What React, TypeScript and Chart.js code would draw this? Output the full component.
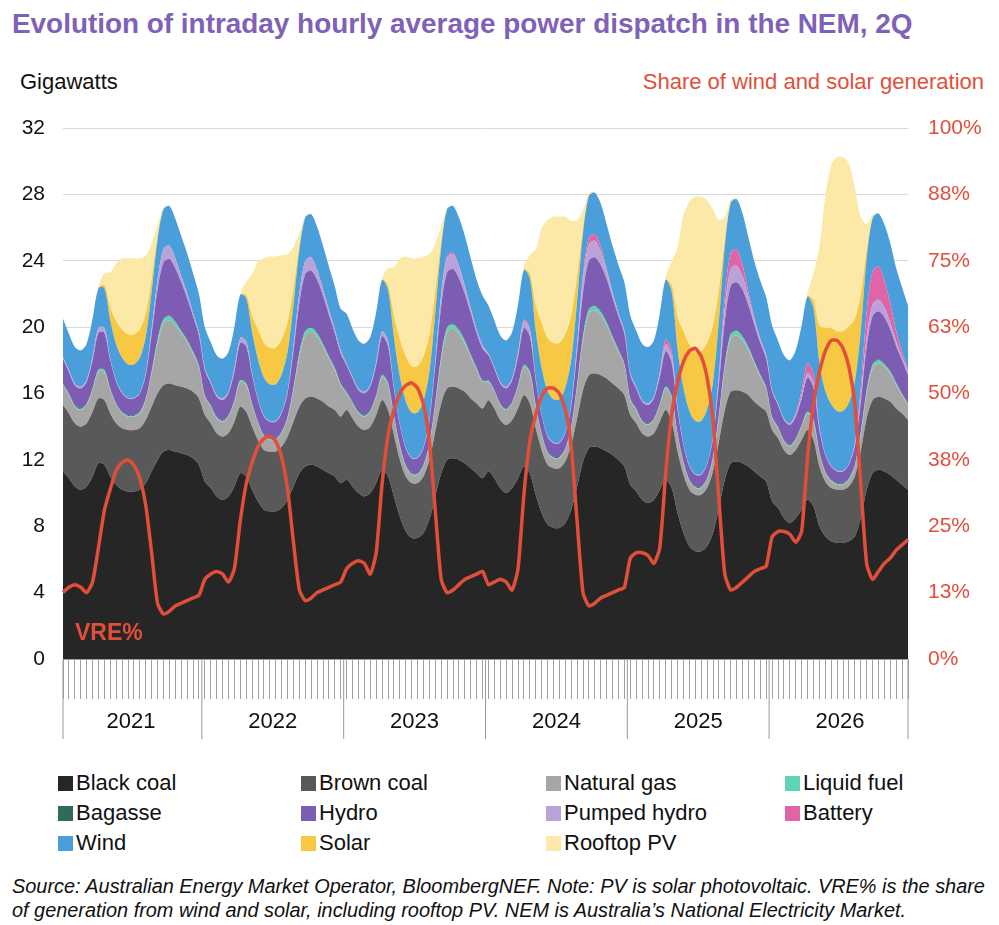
import React, { useEffect, useRef } from "react";
import { Chart, registerables } from "chart.js";
Chart.register(...registerables);

const years = ["2021", "2022", "2023", "2024", "2025", "2026"];
const hours = Array.from({ length: 24 }, (_, i) => i);

const blackCoal = [
  [11.3,10.9,10.4,10.2,10.4,11.0,11.8,11.7,11.0,10.5,10.2,10.1,10.1,10.2,10.6,11.3,12.0,12.5,12.6,12.5,12.4,12.3,12.1,11.7],
  [10.7,10.3,9.8,9.6,9.8,10.4,11.2,11.0,10.2,9.5,9.0,8.9,8.9,9.1,9.6,10.4,11.2,11.6,11.7,11.6,11.4,11.2,11.0,10.6],
  [10.8,10.4,10.0,9.8,10.0,10.6,11.4,11.0,9.8,8.6,7.7,7.3,7.3,7.6,8.4,9.8,11.2,12.0,12.1,12.0,11.8,11.5,11.2,10.9],
  [11.3,10.9,10.3,10.0,10.3,10.9,11.6,11.2,9.9,8.8,8.1,7.9,7.9,8.2,9.0,10.4,11.9,12.7,12.8,12.7,12.5,12.3,12.0,11.6],
  [10.5,10.1,9.6,9.4,9.6,10.2,10.8,10.3,8.8,7.6,6.8,6.5,6.5,6.8,7.6,9.1,10.8,11.8,11.9,11.8,11.6,11.3,11.0,10.7],
  [9.5,9.1,8.5,8.2,8.5,9.0,9.6,9.2,8.0,7.4,7.1,7.0,7.0,7.1,7.4,8.5,10.2,11.2,11.4,11.3,11.1,10.8,10.5,10.2],
];
const brownCoal = [
  [4.0,3.9,3.8,3.8,3.8,3.9,3.9,3.9,3.8,3.7,3.7,3.7,3.7,3.7,3.8,3.9,4.0,4.0,4.0,4.0,4.0,4.0,4.0,4.0],
  [4.0,3.9,3.8,3.8,3.8,3.9,4.0,3.9,3.8,3.7,3.6,3.6,3.6,3.7,3.8,3.9,4.0,4.1,4.1,4.1,4.1,4.0,4.0,4.0],
  [4.2,4.1,4.0,4.0,4.0,4.1,4.2,4.0,3.7,3.4,3.3,3.3,3.3,3.4,3.6,3.9,4.2,4.3,4.3,4.3,4.3,4.2,4.2,4.2],
  [4.3,4.2,4.1,4.1,4.1,4.2,4.3,4.2,4.0,3.8,3.6,3.6,3.6,3.7,3.9,4.1,4.3,4.4,4.4,4.4,4.4,4.3,4.3,4.3],
  [4.2,4.1,4.0,4.0,4.0,4.1,4.2,4.0,3.7,3.5,3.4,3.4,3.4,3.5,3.7,4.0,4.2,4.3,4.3,4.3,4.3,4.2,4.2,4.2],
  [4.3,4.2,4.1,4.1,4.1,4.2,4.2,4.0,3.6,3.3,3.2,3.2,3.2,3.3,3.6,4.0,4.3,4.4,4.4,4.4,4.4,4.3,4.3,4.2],
];
const naturalGas = [
  [1.2,1.1,1.0,1.0,1.1,1.3,1.6,1.7,1.4,1.1,0.9,0.8,0.8,0.9,1.2,2.0,3.0,3.7,3.8,3.6,3.2,2.8,2.3,1.9],
  [1.1,1.0,0.9,0.9,1.0,1.2,1.5,1.6,1.3,1.0,0.8,0.7,0.7,0.8,1.1,1.9,3.0,3.8,3.9,3.7,3.3,2.9,2.4,1.9],
  [1.0,0.9,0.8,0.8,0.9,1.1,1.4,1.5,1.1,0.8,0.6,0.5,0.5,0.6,0.9,1.6,2.6,3.4,3.5,3.3,2.9,2.5,2.0,1.6],
  [1.1,1.0,0.9,0.9,1.0,1.3,1.7,1.8,1.3,0.9,0.7,0.6,0.6,0.7,1.0,1.9,3.0,3.7,3.8,3.6,3.2,2.7,2.2,1.8],
  [0.9,0.8,0.7,0.7,0.8,1.0,1.3,1.4,1.0,0.7,0.5,0.4,0.4,0.5,0.8,1.5,2.5,3.2,3.3,3.1,2.7,2.3,1.8,1.4],
  [0.7,0.6,0.5,0.5,0.6,0.8,1.0,1.1,0.8,0.5,0.4,0.3,0.3,0.4,0.6,1.0,1.5,1.9,2.0,1.9,1.7,1.4,1.1,0.9],
];
const liquidFuel = [
  [0.05,0.05,0.05,0.05,0.05,0.05,0.1,0.1,0.05,0.05,0.05,0.05,0.05,0.05,0.05,0.1,0.2,0.25,0.25,0.2,0.15,0.1,0.1,0.05],
  [0.05,0.05,0.05,0.05,0.05,0.05,0.1,0.1,0.05,0.05,0.05,0.05,0.05,0.05,0.05,0.1,0.2,0.25,0.25,0.2,0.15,0.1,0.1,0.05],
  [0.05,0.05,0.05,0.05,0.05,0.05,0.1,0.1,0.05,0.05,0.05,0.05,0.05,0.05,0.05,0.1,0.2,0.25,0.25,0.2,0.15,0.1,0.1,0.05],
  [0.05,0.05,0.05,0.05,0.05,0.05,0.1,0.1,0.05,0.05,0.05,0.05,0.05,0.05,0.05,0.1,0.2,0.25,0.25,0.2,0.15,0.1,0.1,0.05],
  [0.05,0.05,0.05,0.05,0.05,0.05,0.1,0.1,0.05,0.05,0.05,0.05,0.05,0.05,0.05,0.1,0.2,0.25,0.25,0.2,0.15,0.1,0.1,0.05],
  [0.05,0.05,0.05,0.05,0.05,0.05,0.1,0.1,0.05,0.05,0.05,0.05,0.05,0.05,0.05,0.1,0.15,0.2,0.2,0.15,0.1,0.1,0.05,0.05],
];
const bagasse = [
  [0.05,0.05,0.05,0.05,0.05,0.05,0.05,0.05,0.05,0.05,0.05,0.05,0.05,0.05,0.05,0.05,0.05,0.05,0.05,0.05,0.05,0.05,0.05,0.05],
  [0.05,0.05,0.05,0.05,0.05,0.05,0.05,0.05,0.05,0.05,0.05,0.05,0.05,0.05,0.05,0.05,0.05,0.05,0.05,0.05,0.05,0.05,0.05,0.05],
  [0.05,0.05,0.05,0.05,0.05,0.05,0.05,0.05,0.05,0.05,0.05,0.05,0.05,0.05,0.05,0.05,0.05,0.05,0.05,0.05,0.05,0.05,0.05,0.05],
  [0.05,0.05,0.05,0.05,0.05,0.05,0.05,0.05,0.05,0.05,0.05,0.05,0.05,0.05,0.05,0.05,0.05,0.05,0.05,0.05,0.05,0.05,0.05,0.05],
  [0.05,0.05,0.05,0.05,0.05,0.05,0.05,0.05,0.05,0.05,0.05,0.05,0.05,0.05,0.05,0.05,0.05,0.05,0.05,0.05,0.05,0.05,0.05,0.05],
  [0.05,0.05,0.05,0.05,0.05,0.05,0.05,0.05,0.05,0.05,0.05,0.05,0.05,0.05,0.05,0.05,0.05,0.05,0.05,0.05,0.05,0.05,0.05,0.05],
];
const hydro = [
  [1.5,1.3,1.2,1.2,1.3,1.7,2.2,2.2,1.7,1.3,1.1,1.0,1.0,1.1,1.4,2.2,3.0,3.4,3.4,3.2,2.9,2.5,2.1,1.8],
  [1.5,1.3,1.2,1.2,1.3,1.7,2.2,2.2,1.7,1.3,1.1,1.0,1.0,1.1,1.4,2.2,3.0,3.4,3.4,3.2,2.9,2.5,2.1,1.8],
  [1.6,1.4,1.3,1.3,1.4,1.8,2.3,2.2,1.6,1.2,1.0,0.9,0.9,1.0,1.3,2.2,3.0,3.3,3.3,3.1,2.8,2.5,2.1,1.9],
  [1.5,1.3,1.2,1.2,1.3,1.7,2.2,2.1,1.5,1.1,0.9,0.8,0.8,0.9,1.2,1.9,2.6,2.9,2.9,2.8,2.6,2.3,2.0,1.8],
  [1.4,1.2,1.1,1.1,1.2,1.6,2.1,2.0,1.4,1.0,0.8,0.7,0.7,0.8,1.1,1.8,2.6,2.9,2.9,2.8,2.5,2.2,1.9,1.7],
  [1.5,1.3,1.2,1.2,1.3,1.6,2.0,1.9,1.3,1.0,0.8,0.7,0.7,0.8,1.1,1.8,2.6,2.9,2.9,2.8,2.5,2.2,2.0,1.7],
];
const pumpedHydro = [
  [0.1,0.1,0.1,0.1,0.1,0.2,0.3,0.3,0.1,0.05,0.05,0.05,0.05,0.05,0.1,0.3,0.6,0.8,0.8,0.6,0.4,0.3,0.2,0.2],
  [0.1,0.1,0.1,0.1,0.1,0.2,0.3,0.3,0.1,0.05,0.05,0.05,0.05,0.05,0.1,0.3,0.6,0.8,0.8,0.6,0.4,0.3,0.2,0.2],
  [0.1,0.1,0.1,0.1,0.1,0.2,0.3,0.3,0.1,0.05,0.05,0.05,0.05,0.05,0.1,0.3,0.7,0.9,0.9,0.7,0.5,0.3,0.2,0.2],
  [0.1,0.1,0.1,0.1,0.1,0.2,0.4,0.4,0.1,0.05,0.05,0.05,0.05,0.05,0.1,0.4,0.8,1.0,1.0,0.8,0.5,0.3,0.2,0.2],
  [0.1,0.1,0.1,0.1,0.1,0.2,0.4,0.4,0.1,0.05,0.05,0.05,0.05,0.05,0.1,0.4,0.8,1.0,1.0,0.8,0.5,0.3,0.2,0.2],
  [0.1,0.1,0.1,0.1,0.1,0.2,0.3,0.3,0.1,0.05,0.05,0.05,0.05,0.05,0.1,0.3,0.6,0.7,0.7,0.6,0.4,0.3,0.2,0.2],
];
const battery = [
  [0,0,0,0,0,0,0,0,0,0,0,0,0,0,0,0,0,0,0,0,0,0,0,0],
  [0,0,0,0,0,0,0,0,0,0,0,0,0,0,0,0,0,0,0,0,0,0,0,0],
  [0,0,0,0,0,0,0,0,0,0,0,0,0,0,0,0,0.05,0.1,0.1,0.05,0,0,0,0],
  [0,0,0,0,0,0.05,0.1,0.1,0,0,0,0,0,0,0,0.1,0.3,0.4,0.4,0.3,0.1,0.05,0,0],
  [0,0,0,0,0,0.1,0.3,0.3,0.1,0,0,0,0,0,0,0.2,0.7,1.0,1.0,0.7,0.3,0.1,0.05,0],
  [0,0,0,0,0.1,0.3,0.6,0.5,0.1,0,0,0,0,0,0.1,0.5,1.5,2.0,2.0,1.6,1.2,0.6,0.3,0.1],
];
const wind = [
  [2.3,2.2,2.2,2.2,2.2,2.3,2.4,2.4,2.3,2.2,2.1,2.0,2.0,2.1,2.2,2.3,2.4,2.4,2.4,2.4,2.4,2.4,2.4,2.3],
  [2.5,2.4,2.4,2.4,2.4,2.5,2.6,2.6,2.5,2.4,2.3,2.2,2.2,2.3,2.4,2.5,2.6,2.6,2.6,2.6,2.6,2.6,2.6,2.5],
  [3.0,2.9,2.9,2.9,2.9,3.0,3.1,3.1,3.0,2.9,2.8,2.7,2.7,2.8,2.9,2.9,2.8,2.8,2.8,2.9,3.0,3.0,3.0,3.0],
  [2.9,2.8,2.8,2.8,2.8,2.9,3.0,3.0,2.9,2.8,2.7,2.6,2.6,2.7,2.7,2.6,2.5,2.5,2.5,2.6,2.7,2.8,2.9,2.9],
  [3.5,3.4,3.4,3.4,3.4,3.5,3.6,3.6,3.5,3.4,3.3,3.2,3.2,3.3,3.3,3.2,3.0,3.0,3.0,3.1,3.3,3.4,3.5,3.5],
  [3.9,3.8,3.8,3.8,3.8,3.9,4.0,4.0,3.9,3.8,3.7,3.6,3.6,3.7,3.7,3.5,3.2,3.2,3.2,3.4,3.6,3.8,3.9,3.9],
];
const solar = [
  [0,0,0,0,0,0,0,0.2,0.8,1.4,1.7,1.8,1.8,1.7,1.4,0.8,0.2,0,0,0,0,0,0,0],
  [0,0,0,0,0,0,0,0.2,1.0,1.8,2.1,2.2,2.2,2.1,1.8,1.0,0.2,0,0,0,0,0,0,0],
  [0,0,0,0,0,0,0,0.3,1.3,2.2,2.7,2.8,2.8,2.7,2.2,1.3,0.3,0,0,0,0,0,0,0],
  [0,0,0,0,0,0,0,0.3,1.5,2.7,3.2,3.4,3.4,3.2,2.7,1.5,0.3,0,0,0,0,0,0,0],
  [0,0,0,0,0,0,0,0.4,1.9,3.4,4.0,4.2,4.2,4.0,3.4,1.9,0.4,0,0,0,0,0,0,0],
  [0,0,0,0,0,0,0,0.5,2.2,3.8,4.6,4.8,4.8,4.6,3.8,2.2,0.5,0,0,0,0,0,0,0],
];
const rooftopPV = [
  [0,0,0,0,0,0,0.1,0.7,2.1,3.5,4.3,4.6,4.6,4.3,3.5,2.1,0.7,0.1,0,0,0,0,0,0],
  [0,0,0,0,0,0,0.1,0.8,2.5,4.1,5.1,5.5,5.5,5.1,4.1,2.5,0.8,0.1,0,0,0,0,0,0],
  [0,0,0,0,0,0,0.1,1.0,2.9,4.9,6.0,6.5,6.5,6.0,4.9,2.9,1.0,0.1,0,0,0,0,0,0],
  [0,0,0,0,0,0,0.2,1.1,3.4,5.7,7.1,7.6,7.6,7.1,5.7,3.4,1.1,0.2,0,0,0,0,0,0],
  [0,0,0,0,0,0,0.2,1.4,4.2,7.0,8.6,9.3,9.3,8.6,7.0,4.2,1.4,0.2,0,0,0,0,0,0],
  [0,0,0,0,0,0,0.2,1.6,4.7,7.9,9.8,10.5,10.5,9.8,7.9,4.7,1.6,0.2,0,0,0,0,0,0],
];
const vreShare = [
  [12.5,13.5,14,13.5,12.5,14.5,21,28,32,35.5,37,37.5,36.5,34,29,20,10.5,8.5,9,10,10.5,11,11.5,12],
  [15,16,16.5,16,14.5,17,26,33,37,40,41.5,42,41,38,32,22,13,11,11.5,12.5,13,13.5,14,14.5],
  [17,18,18.5,18,16,20,33,42,47,50,51.5,52,51,48,41,28,15,12.5,13,14,15,15.5,16,16.5],
  [14,14.5,15,14.5,13,17,31,41,46,49.5,51,51,50,47,40,26,12.5,10,10.5,11.5,12,12.5,13,13.5],
  [19,20,20,19.5,18,21,35,46,52,56,58,58.5,57,53,45,30,16,13,13.5,14.5,15.5,16.5,17,17.5],
  [23,24,24,23.5,22,24,38,48,54,58,60,60,58.5,55,48,33,18,15,16.5,18,19,20.5,21.5,22.5],
];

const seriesDefs = [
  { label: "Black coal", data: blackCoal, color: "#262626" },
  { label: "Brown coal", data: brownCoal, color: "#595959" },
  { label: "Natural gas", data: naturalGas, color: "#a6a6a6" },
  { label: "Liquid fuel", data: liquidFuel, color: "#5fd3b6" },
  { label: "Bagasse", data: bagasse, color: "#2e6b58" },
  { label: "Hydro", data: hydro, color: "#7d5cb4" },
  { label: "Pumped hydro", data: pumpedHydro, color: "#b9a1d9" },
  { label: "Battery", data: battery, color: "#e065a6" },
  { label: "Wind", data: wind, color: "#4a9ed9" },
  { label: "Solar", data: solar, color: "#f7c844" },
  { label: "Rooftop PV", data: rooftopPV, color: "#fce9a8" },
];
const legendOrder = ["Black coal","Brown coal","Natural gas","Liquid fuel","Bagasse","Hydro","Pumped hydro","Battery","Wind","Solar","Rooftop PV"];

const FONT = "Arial, 'Liberation Sans', sans-serif";

export default function App() {
  const ref = useRef<HTMLCanvasElement>(null);
  useEffect(() => {
    const labels: string[] = [];
    years.forEach((y) => hours.forEach((h) => labels.push(y + "-" + h)));
    const flat = (a: number[][]) => a.flat();
    const datasets: any[] = seriesDefs.map((s, i) => ({
      type: "line",
      label: s.label,
      data: flat(s.data),
      backgroundColor: s.color,
      borderColor: s.color,
      borderWidth: 0,
      pointRadius: 0,
      fill: i === 0 ? "origin" : "-1",
      tension: 0.3,
      yAxisID: "y",
      stack: "gen",
      order: 2,
    }));
    datasets.push({
      type: "line",
      label: "VRE%",
      data: flat(vreShare),
      borderColor: "#e14f3b",
      borderWidth: 3.5,
      pointRadius: 0,
      fill: false,
      tension: 0.2,
      yAxisID: "y1",
      order: 0,
    });
    const yearPlugin = {
      id: "yearSep",
      afterDraw(chart: any) {
        const { ctx, scales, chartArea } = chart;
        const x = scales.x;
        ctx.save();
        ctx.strokeStyle = "#9a9a9a";
        ctx.lineWidth = 1;
        for (let k = 0; k <= 6; k++) {
          let px;
          if (k === 0) px = chartArea.left;
          else if (k === 6) px = chartArea.right;
          else px = (x.getPixelForValue(24 * k - 1) + x.getPixelForValue(24 * k)) / 2;
          ctx.beginPath();
          ctx.moveTo(px, chartArea.bottom);
          ctx.lineTo(px, chartArea.bottom + 80);
          ctx.stroke();
        }
        ctx.fillStyle = "#111";
        ctx.font = "22px " + FONT;
        ctx.textAlign = "center";
        ctx.textBaseline = "middle";
        years.forEach((y, k) => {
          const a = x.getPixelForValue(24 * k);
          const b = x.getPixelForValue(24 * k + 23);
          ctx.fillText(y, (a + b) / 2, chartArea.bottom + 63);
        });
        ctx.restore();
      },
    };
    const chart = new Chart(ref.current!, {
      type: "line",
      data: { labels, datasets },
      plugins: [yearPlugin],
      options: {
        animation: false,
        responsive: false,
        layout: { padding: { top: 128, bottom: 21, left: 0, right: 0 } },
        plugins: { legend: { display: false }, tooltip: { enabled: false } },
        scales: {
          x: {
            offset: false,
            grid: { drawOnChartArea: false, tickLength: 40, color: "#a0a0a0", tickColor: "#a0a0a0" },
            border: { color: "#a0a0a0" },
            ticks: { autoSkip: false, maxRotation: 0, callback: () => "", padding: 0 },
            afterFit: (s: any) => { s.height = 80; },
          },
          y: {
            stacked: true,
            min: 0,
            max: 32,
            ticks: { stepSize: 4, color: "#111", font: { size: 21, family: FONT }, padding: 18 },
            grid: { color: "#d9d9d9", drawTicks: false },
            border: { display: false },
            afterFit: (s: any) => { s.width = 63; },
          },
          y1: {
            position: "right",
            min: 0,
            max: 100,
            ticks: {
              stepSize: 12.5,
              color: "#e14f3b",
              font: { size: 21, family: FONT },
              padding: 20,
              callback: (v: any) => Math.round(Number(v)) + "%",
            },
            grid: { drawOnChartArea: false, drawTicks: false },
            border: { display: false },
            afterFit: (s: any) => { s.width = 91; },
          },
        },
      },
    });
    return () => chart.destroy();
  }, []);

  const cols = [58, 301, 546, 785];
  return (
    <div style={{ position: "absolute", left: 0, top: 0, width: 999, height: 925, fontFamily: FONT, background: "#fff" }}>
      <div style={{ position: "absolute", left: 12, top: 8, fontSize: 27.9, fontWeight: "bold", color: "#8061b8", whiteSpace: "nowrap" }}>
        Evolution of intraday hourly average power dispatch in the NEM, 2Q
      </div>
      <div style={{ position: "absolute", left: 20, top: 69, fontSize: 22, color: "#111" }}>Gigawatts</div>
      <div style={{ position: "absolute", right: 15, top: 69, fontSize: 22, color: "#e14f3b", whiteSpace: "nowrap" }}>
        Share of wind and solar generation
      </div>
      <canvas ref={ref} width={999} height={760} style={{ position: "absolute", left: 0, top: 0, width: 999, height: 760 }} />
      <div style={{ position: "absolute", left: 75, top: 619, fontSize: 23, fontWeight: "bold", color: "#e14f3b" }}>VRE%</div>
      {legendOrder.map((name, i) => {
        const s = seriesDefs.find((d) => d.label === name)!;
        const col = i % 4;
        const row = Math.floor(i / 4);
        return (
          <div key={name} style={{ position: "absolute", left: cols[col], top: 770 + row * 30, display: "flex", alignItems: "center", fontSize: 22, color: "#111", whiteSpace: "nowrap" }}>
            <span style={{ display: "inline-block", width: 15, height: 15, background: s.color, marginRight: 3 }} />
            {name}
          </div>
        );
      })}
      <div style={{ position: "absolute", left: 12, top: 874, fontSize: 19.9, fontStyle: "italic", color: "#111", lineHeight: "24px", width: 990, whiteSpace: "nowrap" }}>
        Source: Australian Energy Market Operator, BloombergNEF. Note: PV is solar photovoltaic. VRE% is the share
        <br />
        of generation from wind and solar, including rooftop PV. NEM is Australia’s National Electricity Market.
      </div>
    </div>
  );
}
